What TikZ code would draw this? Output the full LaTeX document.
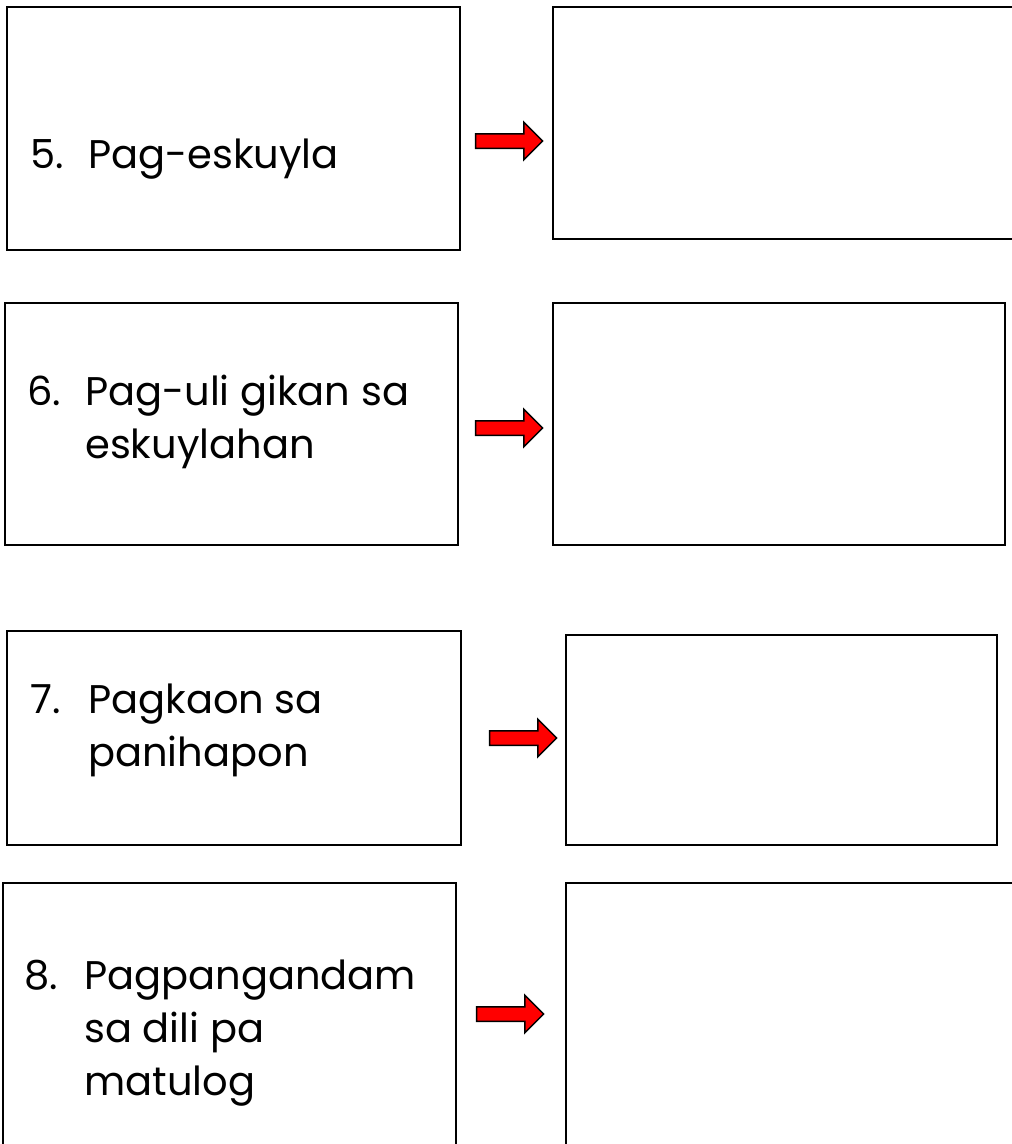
\documentclass[tikz,border=0pt]{standalone}
\usepackage{fontspec}
\setmainfont{Poppins}
\usetikzlibrary{shapes.arrows, positioning}
\tikzset{
	actbox/.style={
		rectangle,
		draw=black,
		line width=2.2pt,
		inner sep=0pt
	},
	redarrow/.style={
		single arrow,
		draw=black,
		fill=red,
		line width=1.5pt,
		minimum height=67pt,
		single arrow head extend=11.5pt,
		single arrow head indent=0pt,
		inner xsep=0pt,
		inner ysep=6.5pt
	},
	num/.style={anchor=base west, inner sep=0pt, font=\fontsize{40}{53}\selectfont},
	% base of a multi-line task is its last line
	task/.style={anchor=base west, inner sep=0pt, align=left, font=\fontsize{40}{53}\selectfont}
}

\begin{document}
\begin{tikzpicture}[x=1pt, y=-1pt]
	\clip (0,0) rectangle (1012,1144);
	\fill[white] (0,0) rectangle (1012,1144);

	% row 5
	\node (act5) [actbox, minimum width=453pt, minimum height=243pt] at (233.5,128.5) {};
	\node (ans5) [actbox, minimum width=463pt, minimum height=232pt] at (784.5,123) {};
	\node (arr5) [redarrow] at (505.5,141) {};
	\node (n5) [num] at (30,168) {5.};
	\node (t5) [task] at (88,168) {Pag-eskuyla};

	% row 6
	\node (act6) [actbox, minimum width=453pt, minimum height=242pt] at (231.5,424) {};
	\node (ans6) [actbox, minimum width=452pt, minimum height=242pt] at (779,424) {};
	\node (arr6) [redarrow] at (505.5,428) {};
	\node (n6) [num] at (27,405) {6.};
	\node (t6) [task] at (85,458) {Pag-uli gikan sa\\eskuylahan};

	% row 7
	\node (act7) [actbox, minimum width=454pt, minimum height=214pt] at (234,738) {};
	\node (ans7) [actbox, minimum width=431pt, minimum height=210pt] at (781.5,740) {};
	\node (arr7) [redarrow] at (519.5,738) {};
	\node (n7) [num] at (30,713) {7.};
	\node (t7) [task] at (88,766) {Pagkaon sa\\panihapon};

	% row 8
	\node (act8) [actbox, minimum width=453pt, minimum height=267pt] at (229.5,1016.5) {};
	\node (ans8) [actbox, minimum width=450pt, minimum height=267pt] at (791,1016.5) {};
	\node (arr8) [redarrow] at (506.5,1014) {};
	\node (n8) [num] at (24.5,989) {8.};
	\node (t8) [task] at (84,1095) {Pagpangandam\\sa dili pa\\matulog};
\end{tikzpicture}
\end{document}
